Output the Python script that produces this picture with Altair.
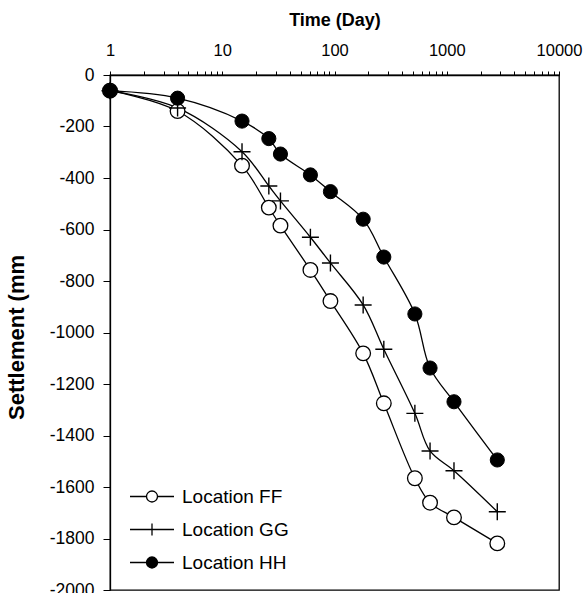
import altair as alt
import pandas as pd

# ---- data ----
days = [1, 4, 15, 26, 33, 61, 92, 180, 275, 520, 710, 1160, 2820]
ff = [-61, -140, -352, -515, -585, -757, -878, -1081, -1275, -1566, -1661, -1718, -1819]
gg = [-61, -128, -298, -431, -489, -630, -730, -893, -1065, -1314, -1460, -1537, -1696]
hh = [-61, -90, -179, -247, -307, -388, -453, -560, -707, -928, -1138, -1269, -1495]
series_names = ["Location FF", "Location GG", "Location HH"]
x_major = [1, 10, 100, 1000, 10000]
x_minor_mult = [1, 2, 3, 4, 5, 6, 7, 8, 9]
y_ticks = [-2000, -1800, -1600, -1400, -1200, -1000, -800, -600, -400, -200, 0]

rows = []
for name, vals in zip(series_names, [ff, gg, hh]):
    for d, v in zip(days, vals):
        rows.append({"series": name, "day": d, "settlement": v})
df = pd.DataFrame(rows)

x_tick_values = [m * x_major[k] for k in range(4) for m in x_minor_mult] + [x_major[-1]]

FONT = "Liberation Sans"

x_enc = alt.X(
    "day:Q",
    scale=alt.Scale(type="log", domain=[1, 10000], nice=False),
    axis=alt.Axis(
        orient="top",
        title="Time (Day)",
        values=x_tick_values,
        labelExpr="indexof([1,10,100,1000,10000], datum.value) >= 0 ? '' + datum.value : ''",
        labelOverlap=False,
        labelFlush=False,
        tickSize=4,
        labelPadding=13,
        labelFontSize=16.5,
        titleFontSize=18,
        titleY=-50,
        titleBaseline="alphabetic",
        grid=False,
    ),
)
y_enc = alt.Y(
    "settlement:Q",
    scale=alt.Scale(domain=[-2000, 0], nice=False, zero=False),
    axis=alt.Axis(
        title="Settlement (mm",
        values=y_ticks,
        labelExpr="'' + datum.value",
        labelFlush=False,
        labelOverlap=False,
        tickSize=7,
        labelPadding=9,
        labelFontSize=17.5,
        titleFontSize=22,
        titleX=-87,
        titleY=262,
        titleBaseline="alphabetic",
        grid=False,
    ),
)

base = alt.Chart(df).encode(x=x_enc, y=y_enc)

lines = base.mark_line(color="black", strokeWidth=1.3, interpolate="catmull-rom").encode(
    detail="series:N"
)
ff_pts = base.transform_filter(alt.datum.series == "Location FF").mark_point(
    shape="circle", size=215, filled=True, fill="white", stroke="black", strokeWidth=1.3, opacity=1
)
gg_pts = base.transform_filter(alt.datum.series == "Location GG").mark_point(
    shape="M-1,0H1M0,-1V1", size=289, filled=False, stroke="black", strokeWidth=1.4, opacity=1
)
hh_pts = base.transform_filter(alt.datum.series == "Location HH").mark_point(
    shape="circle", size=200, filled=True, fill="black", stroke="black", strokeWidth=1, opacity=1
)

circle_path = "M-0.25,0A0.25,0.25 0 1,1 0.25,0A0.25,0.25 0 1,1 -0.25,0Z"
legend_paths = [
    "M-1,0H-0.25M0.25,0H1" + circle_path,
    "M-1,0H1M0,-0.27V0.27",
    "M-1,0H-0.25M0.25,0H1" + circle_path,
]
legend_fills = ["white", "transparent", "black"]
legend_strokes = ["black", "black", "black"]

leg_def = dict(
    title=None,
    orient="none",
    legendX=19,
    legendY=405,
    padding=0,
    symbolSize=1936,
    clipHeight=33,
    rowPadding=0,
    labelOffset=7,
    labelFontSize=19,
    labelFont=FONT,
    labelColor="black",
    symbolOpacity=1,
    symbolStrokeWidth=1.3,
)

leg = base.mark_point(filled=True, strokeWidth=1.3, opacity=0).encode(
    shape=alt.Shape(
        "series:N",
        scale=alt.Scale(domain=series_names, range=legend_paths),
        legend=alt.Legend(**leg_def),
    ),
    fill=alt.Fill(
        "series:N",
        scale=alt.Scale(domain=series_names, range=legend_fills),
        legend=alt.Legend(**leg_def),
    ),
    stroke=alt.Stroke(
        "series:N",
        scale=alt.Scale(domain=series_names, range=legend_strokes),
        legend=alt.Legend(**leg_def),
    ),
)

chart = (
    alt.layer(lines, ff_pts, gg_pts, hh_pts, leg)
    .properties(
        width=449,
        height=515,
        autosize=alt.AutoSizeParams(type="none"),
        padding={"left": 110, "top": 75, "right": 25, "bottom": 3},
        background="white",
    )
    .configure_view(stroke="black", strokeWidth=1.3)
    .configure_axis(
        labelFont=FONT,
        titleFont=FONT,
        labelColor="black",
        titleColor="black",
        tickColor="black",
        domainColor="black",
        domainWidth=1.3,
        tickWidth=1,
        titleFontWeight="bold",
    )
)

chart.save("out.html", embed_options={"renderer": "svg", "actions": False})
